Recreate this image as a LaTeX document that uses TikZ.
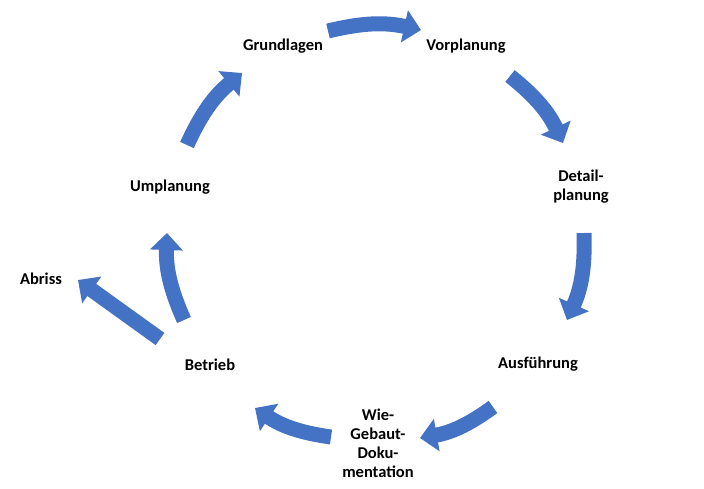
\documentclass[tikz,border=0pt]{standalone}
\usepackage{fontspec}
\setmainfont{Carlito}
\usetikzlibrary{arrows.meta}
\definecolor{flowblue}{HTML}{4472C4}

\begin{document}
\begin{tikzpicture}[x=1pt, y=-1pt,
  phase/.style={font=\bfseries\fontsize{16.5}{19}\selectfont, align=center, inner sep=1pt},
  flow/.style={draw=flowblue, line width=15pt, -{Triangle[length=17pt,width=32pt]}}]
  \useasboundingbox (0,0) rectangle (704,488);

  % phases
  \node[phase] (grund)   at (283,46)  {Grundlagen};
  \node[phase] (vor)     at (466,46)  {Vorplanung};
  \node[phase] (detail)  at (581,187) {Detail-\\planung};
  \node[phase] (ausf)    at (538,364) {Ausführung};
  \node[phase] (doku)    at (378,443) {Wie-\\Gebaut-\\Doku-\\mentation};
  \node[phase] (betrieb) at (210,365) {Betrieb};
  \node[phase] (um)      at (170,187) {Umplanung};
  \node[phase] (abriss)  at (41,279)  {Abriss};

  % arrow ends
  \coordinate (s1) at (328,31);  \coordinate (e1) at (421,30);
  \coordinate (s2) at (510,76);  \coordinate (e2) at (563,143);
  \coordinate (s3) at (584,233); \coordinate (e3) at (567,320);
  \coordinate (s4) at (493,407); \coordinate (e4) at (420,438);
  \coordinate (s5) at (331,437); \coordinate (e5) at (255,408);
  \coordinate (s6) at (184,320); \coordinate (e6) at (167,233);
  \coordinate (s7) at (187,145); \coordinate (e7) at (242,73);
  \coordinate (s8) at (160,339); \coordinate (e8) at (78,280);

  % cycle
  \draw[flow] (s1) to[bend left=13] (e1);
  \draw[flow] (s2) to[bend left=13] (e2);
  \draw[flow] (s3) to[bend left=13] (e3);
  \draw[flow] (s4) to[bend left=13] (e4);
  \draw[flow] (s5) to[bend left=13] (e5);
  \draw[flow] (s6) to[bend left=13] (e6);
  \draw[flow] (s7) to[bend left=13] (e7);
  \draw[flow] (s8) -- (e8);
\end{tikzpicture}
\end{document}
